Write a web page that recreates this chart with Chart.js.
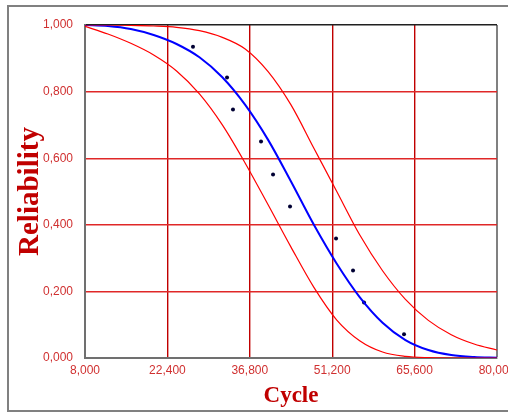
<!DOCTYPE html>
<html>
<head>
<meta charset="utf-8">
<script src="https://cdn.jsdelivr.net/npm/chart.js@4/dist/chart.umd.min.js"></script>
<style>
  html, body { margin: 0; padding: 0; background: #fff; }
  #wrap { width: 508px; height: 412px; position: relative; }
</style>
</head>
<body>
<div id="wrap"><canvas id="grafico" width="508" height="412"></canvas></div>
<script>
// valores
const cycles = [8000, 12000, 16000, 20000, 24000, 28000, 32000, 36000, 40000, 44000,
                48000, 52000, 56000, 60000, 64000, 68000, 72000, 76000, 80000];
const fitted = [1.000, 0.997, 0.988, 0.970, 0.943, 0.903, 0.843, 0.760, 0.655, 0.530,
                0.400, 0.283, 0.183, 0.106, 0.054, 0.024, 0.009, 0.003, 0.001];
const lowerBound = [0.996, 0.973, 0.945, 0.910, 0.862, 0.793, 0.700, 0.585, 0.460, 0.333,
                    0.212, 0.114, 0.052, 0.018, 0.005, 0.001, 0.000, 0.000, 0.000];
const upperBound = [1.000, 1.000, 0.999, 0.997, 0.993, 0.983, 0.963, 0.928, 0.860, 0.760,
                    0.630, 0.500, 0.370, 0.262, 0.176, 0.113, 0.070, 0.042, 0.024];
const failCycles = [26870, 32820, 33860, 38760, 40860, 43830, 51870, 54840, 56760, 63750];
const failRel = [0.935, 0.842, 0.746, 0.650, 0.551, 0.455, 0.359, 0.263, 0.167, 0.071];
const xTicks = [8000, 22400, 36800, 51200, 65600, 80000];
const yTicks = [0, 0.2, 0.4, 0.6, 0.8, 1.0];

const toPts = (xs, ys) => xs.map((x, i) => ({ x: x, y: ys[i] }));
const tickFont = { family: "'Liberation Sans Narrow', 'Liberation Sans'", size: 12 };

// marco exterior gris
const marco = {
    id: 'marco',
    afterDraw(chart) {
        const c = chart.ctx;
        c.save();
        c.strokeStyle = '#808080';
        c.lineWidth = 2;
        c.strokeRect(8, 6, 520, 405);
        c.restore();
    }
};

const curva = (ys, color, w) => ({
    data: toPts(cycles, ys), showLine: true, borderColor: color,
    borderWidth: w, pointRadius: 0, cubicInterpolationMode: 'monotone'
});

new Chart(document.getElementById('grafico').getContext('2d'), {
    type: 'scatter',
    data: {
        datasets: [
            curva(lowerBound, '#ff0000', 1.2),
            curva(upperBound, '#ff0000', 1.2),
            curva(fitted, '#0000ff', 2),
            {
                data: toPts(failCycles, failRel), showLine: false, pointRadius: 2,
                pointBackgroundColor: '#000033', pointBorderWidth: 0
            }
        ]
    },
    options: {
        responsive: false,
        animation: false,
        layout: { padding: { left: 0, top: 25, right: 11, bottom: 0 } },
        plugins: { legend: { display: false }, tooltip: { enabled: false } },
        scales: {
            x: {
                type: 'linear', min: 8000, max: 80000,
                afterBuildTicks: s => { s.ticks = xTicks.map(v => ({ value: v })); },
                afterFit: s => { s.height = 54; s.paddingLeft = 0; s.paddingRight = 0; },
                ticks: {
                    color: '#d03030', padding: 5, maxRotation: 0, autoSkip: false,
                    font: tickFont,
                    callback: v => v.toLocaleString('en-US')
                },
                grid: {
                    drawTicks: false,
                    color: c => c.tick && c.tick.value === 80000 ? '#808080' : '#c00000',
                    lineWidth: c => c.tick && c.tick.value === 80000 ? 2 : 1.4
                },
                border: { color: '#707070', width: 2 },
                title: {
                    display: true, text: 'Cycle', color: '#c00000', padding: { top: 0, bottom: 2 },
                    font: { family: 'Liberation Serif', size: 23, weight: 'bold' }
                }
            },
            y: {
                min: 0, max: 1,
                afterBuildTicks: s => { s.ticks = yTicks.map(v => ({ value: v })); },
                afterFit: s => { s.width = 85; s.paddingTop = 0; s.paddingBottom = 0; },
                ticks: {
                    color: '#d03030', padding: 12,
                    font: tickFont,
                    callback: v => v.toFixed(3).replace('.', ',')
                },
                grid: {
                    drawTicks: false,
                    color: c => c.tick && c.tick.value === 1 ? '#202020' : '#e02828',
                    lineWidth: c => c.tick && c.tick.value === 1 ? 1.5 : 1.4
                },
                border: { color: '#707070', width: 2 },
                title: {
                    display: true, text: 'Reliability', color: '#c00000', padding: { top: 13, bottom: 0 },
                    font: { family: 'Liberation Serif', size: 29, weight: 'bold' }
                }
            }
        }
    },
    plugins: [marco]
});
</script>
</body>
</html>
